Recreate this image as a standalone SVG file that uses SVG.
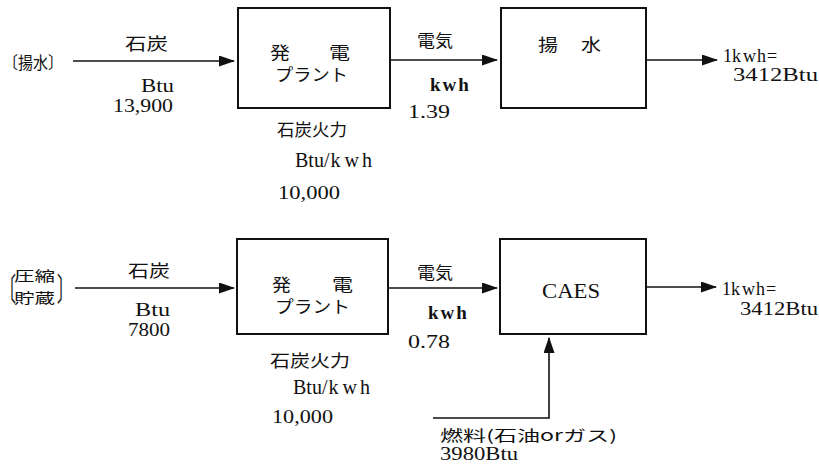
<svg xmlns="http://www.w3.org/2000/svg" width="819" height="471" viewBox="0 0 819 471">
<style>
text{font-family:"Liberation Serif","DejaVu Serif","Noto Sans CJK JP",serif;font-size:19px;fill:#111}
.jp{font-family:"Noto Sans CJK JP","Liberation Serif",sans-serif;font-size:17px}
.sm{font-size:18px}
.br{font-family:"Noto Sans CJK JP",sans-serif;font-size:16px}
.box{fill:#fff;stroke:#111;stroke-width:2}
.ln{stroke:#111;stroke-width:1.6;fill:none}
</style>
<defs>
<marker id="ah" markerWidth="16" markerHeight="11" refX="15" refY="5.5" orient="auto" markerUnits="userSpaceOnUse">
<path d="M0,0 L16,5.5 L0,11 Z" fill="#111"/>
</marker>
</defs>
<rect width="819" height="471" fill="#fff"/>
<g id="connectors">
<line class="ln" x1="73" y1="61" x2="234" y2="61" marker-end="url(#ah)"/>
<line class="ln" x1="390" y1="60" x2="497" y2="60" marker-end="url(#ah)"/>
<line class="ln" x1="646" y1="60" x2="717" y2="60" marker-end="url(#ah)"/>
<line class="ln" x1="75" y1="288" x2="234" y2="288" marker-end="url(#ah)"/>
<line class="ln" x1="388" y1="288" x2="497" y2="288" marker-end="url(#ah)"/>
<line class="ln" x1="646" y1="287" x2="716" y2="287" marker-end="url(#ah)"/>
<polyline class="ln" points="433,418 549,418 549,338" marker-end="url(#ah)"/>
</g>
<g id="label-top">
<text x="3" y="69" class="jp" textLength="60" lengthAdjust="spacingAndGlyphs">〔揚水〕</text>
</g>
<g id="label-bottom">
<text transform="translate(0,301) scale(1,2)" class="br">〔</text>
<text x="14" y="281" class="jp" style="font-size:14px" textLength="41" lengthAdjust="spacingAndGlyphs">圧縮</text>
<text x="14" y="303" class="jp" style="font-size:14px" textLength="41" lengthAdjust="spacingAndGlyphs">貯蔵</text>
<text transform="translate(57,301) scale(1,2)" class="br">〕</text>
</g>
<g id="plant1">
<rect class="box" x="238" y="8" width="152" height="100"/>
<text x="270" y="59" class="jp" textLength="20" lengthAdjust="spacingAndGlyphs">発</text>
<text x="329" y="59" class="jp" textLength="21" lengthAdjust="spacingAndGlyphs">電</text>
<text x="275" y="81" class="jp" textLength="73" lengthAdjust="spacingAndGlyphs">プラント</text>
</g>
<g id="pump">
<rect class="box" x="501" y="8" width="145" height="100"/>
<text x="538" y="51" class="jp" textLength="20" lengthAdjust="spacingAndGlyphs">揚</text>
<text x="581" y="51" class="jp" textLength="20" lengthAdjust="spacingAndGlyphs">水</text>
</g>
<g id="plant2">
<rect class="box" x="237" y="239" width="151" height="95"/>
<text x="272" y="291" class="jp" textLength="19" lengthAdjust="spacingAndGlyphs">発</text>
<text x="332" y="291" class="jp" textLength="21" lengthAdjust="spacingAndGlyphs">電</text>
<text x="275" y="313" class="jp" textLength="75" lengthAdjust="spacingAndGlyphs">プラント</text>
</g>
<g id="caes">
<rect class="box" x="500" y="239" width="146" height="95"/>
<text x="542" y="298" style="font-size:20px" textLength="58" lengthAdjust="spacingAndGlyphs">CAES</text>
</g>
<g id="texts">
<text x="125" y="50" class="jp" textLength="43" lengthAdjust="spacingAndGlyphs">石炭</text>
<text x="141" y="92" textLength="33" lengthAdjust="spacingAndGlyphs">Btu</text>
<text x="113" y="112" textLength="60" lengthAdjust="spacingAndGlyphs">13,900</text>
<text x="277" y="136" class="jp" textLength="70" lengthAdjust="spacingAndGlyphs">石炭火力</text>
<text x="295" y="167" style="font-size:20px">Btu/<tspan dx="1">k</tspan><tspan dx="4">w</tspan><tspan dx="3">h</tspan></text>
<text x="278" y="199" textLength="62" lengthAdjust="spacingAndGlyphs">10,000</text>
<text x="417" y="47" class="jp" textLength="36" lengthAdjust="spacingAndGlyphs">電気</text>
<text x="430" y="91" font-weight="bold">k<tspan dx="2">w</tspan><tspan dx="2">h</tspan></text>
<text x="408" y="118" textLength="42" lengthAdjust="spacingAndGlyphs">1.39</text>
<text x="723" y="62" class="sm">1k<tspan dx="2">w</tspan><tspan dx="1">h</tspan><tspan dx="1">=</tspan></text>
<text x="733" y="81" class="sm" textLength="85" lengthAdjust="spacingAndGlyphs">3412Btu</text>

<text x="128" y="277" class="jp" textLength="42" lengthAdjust="spacingAndGlyphs">石炭</text>
<text x="135" y="316" class="sm" textLength="35" lengthAdjust="spacingAndGlyphs">Btu</text>
<text x="128" y="336" class="sm" textLength="42" lengthAdjust="spacingAndGlyphs">7800</text>
<text x="270" y="367" class="jp" textLength="80" lengthAdjust="spacingAndGlyphs">石炭火力</text>
<text x="293" y="394" style="font-size:20px">Btu/<tspan dx="1">k</tspan><tspan dx="4">w</tspan><tspan dx="3">h</tspan></text>
<text x="272" y="423" textLength="61" lengthAdjust="spacingAndGlyphs">10,000</text>
<text x="417" y="279" class="jp" textLength="36" lengthAdjust="spacingAndGlyphs">電気</text>
<text x="428" y="319" font-weight="bold">k<tspan dx="2">w</tspan><tspan dx="2">h</tspan></text>
<text x="408" y="348" textLength="42" lengthAdjust="spacingAndGlyphs">0.78</text>
<text x="722" y="295" class="sm">1k<tspan dx="2">w</tspan><tspan dx="1">h</tspan><tspan dx="1">=</tspan></text>
<text x="740" y="315" class="sm" textLength="78" lengthAdjust="spacingAndGlyphs">3412Btu</text>
<text x="440" y="441" class="jp" style="font-size:15px" textLength="177" lengthAdjust="spacingAndGlyphs">燃料(石油orガス)</text>
<text x="440" y="460" class="sm" textLength="78" lengthAdjust="spacingAndGlyphs">3980Btu</text>
</g>
</svg>
